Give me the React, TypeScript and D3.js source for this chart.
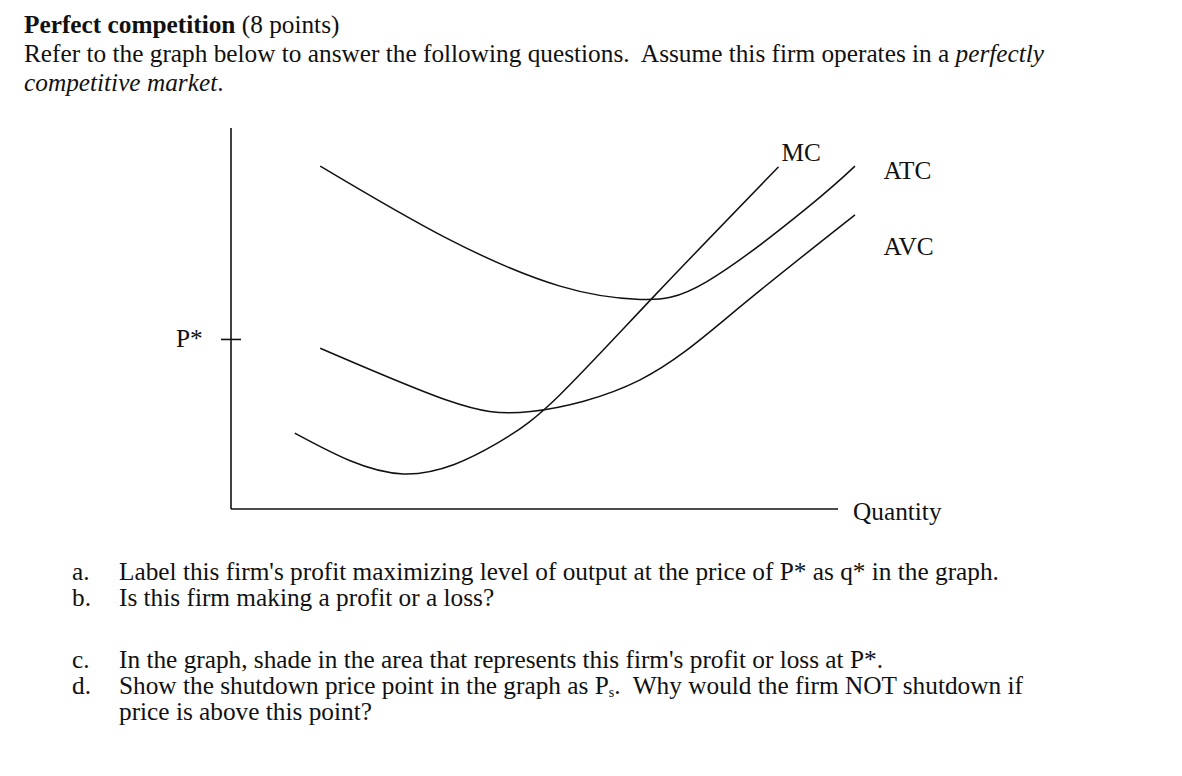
import React from "react";
import * as d3 from "d3";

type Pt = [number, number];

// Curve data in (quantity, cost) units
const atcPoints: Pt[] = [
  [14.7, 90.0], [35.5, 71.1], [54.2, 58.5], [67.4, 55.0], [78.4, 59.7], [94.8, 78.9], [102.8, 90.0],
];
const avcPoints: Pt[] = [
  [14.7, 42.2], [35.5, 28.6], [49.4, 25.6], [67.4, 33.9], [83.9, 53.1], [102.8, 77.2],
];
const mcPoints: Pt[] = [
  [10.5, 19.9], [28.4, 9.2], [43.8, 17.2], [54.2, 30.0], [69.9, 56.2], [90.2, 89.8],
];
const pStar = 44.5;

const curveLabels = ["MC", "ATC", "AVC"];
const labelPos: Pt[] = [[90.7, 91.4], [107.5, 86.6], [107.5, 66.6]];
const xAxisLabel = "Quantity";
const pStarLabel = "P*";

const questionLetters = ["a.", "b.", "c.", "d."];

const W = 1182;
const H = 776;

export default function App() {
  const x = d3.scaleLinear().domain([0, 100]).range([231, 838]);
  const y = d3.scaleLinear().domain([0, 100]).range([509, 128]);
  const line = d3
    .line<Pt>()
    .x((d) => x(d[0]))
    .y((d) => y(d[1]))
    .curve(d3.curveNatural);

  const font = "'Liberation Serif', 'Times New Roman', serif";
  const fs = 25.3;
  const col = "#111";

  return (
    <svg
      width={W}
      height={H}
      style={{ position: "absolute", left: 0, top: 0, background: "#fff" }}
      fontFamily={font}
      fontSize={fs}
      fill={col}
    >
      <text x={24} y={33}>
        <tspan fontWeight="bold">Perfect competition</tspan>
        <tspan> (8 points)</tspan>
      </text>
      <text x={24} y={62} xmlSpace="preserve">
        <tspan>Refer to the graph below to answer the following questions.{"\u00a0 "}Assume this firm operates in a </tspan>
        <tspan fontStyle="italic">perfectly</tspan>
      </text>
      <text x={24} y={91}>
        <tspan fontStyle="italic">competitive market</tspan>
        <tspan>.</tspan>
      </text>

      {/* axes */}
      <line x1={x(0)} y1={y(100)} x2={x(0)} y2={y(0)} stroke={col} strokeWidth={1.6} />
      <line x1={x(0)} y1={y(0)} x2={x(100)} y2={y(0)} stroke={col} strokeWidth={1.6} />
      <line x1={x(0) - 10} y1={y(pStar)} x2={x(0) + 10} y2={y(pStar)} stroke={col} strokeWidth={1.6} />
      <text x={x(0) - 55} y={y(pStar) + 8}>{pStarLabel}</text>
      <text x={x(100) + 15} y={y(0) + 11}>{xAxisLabel}</text>

      {[mcPoints, atcPoints, avcPoints].map((pts, i) => (
        <path key={i} d={line(pts) || ""} fill="none" stroke={col} strokeWidth={1.5} />
      ))}
      {curveLabels.map((l, i) => (
        <text key={l} x={x(labelPos[i][0])} y={y(labelPos[i][1])}>{l}</text>
      ))}

      {/* questions */}
      <text x={72} y={580}>{questionLetters[0]}</text>
      <text x={119} y={580}>Label this firm's profit maximizing level of output at the price of P* as q* in the graph.</text>
      <text x={72} y={606}>{questionLetters[1]}</text>
      <text x={119} y={606}>Is this firm making a profit or a loss?</text>
      <text x={72} y={668}>{questionLetters[2]}</text>
      <text x={119} y={668}>In the graph, shade in the area that represents this firm's profit or loss at P*.</text>
      <text x={72} y={694}>{questionLetters[3]}</text>
      <text x={119} y={694} xmlSpace="preserve">
        <tspan>Show the shutdown price point in the graph as P</tspan>
        <tspan fontSize={14} dy={3}>s</tspan>
        <tspan dy={-3}>.{"\u00a0 "}Why would the firm NOT shutdown if</tspan>
      </text>
      <text x={119} y={720}>price is above this point?</text>
    </svg>
  );
}
